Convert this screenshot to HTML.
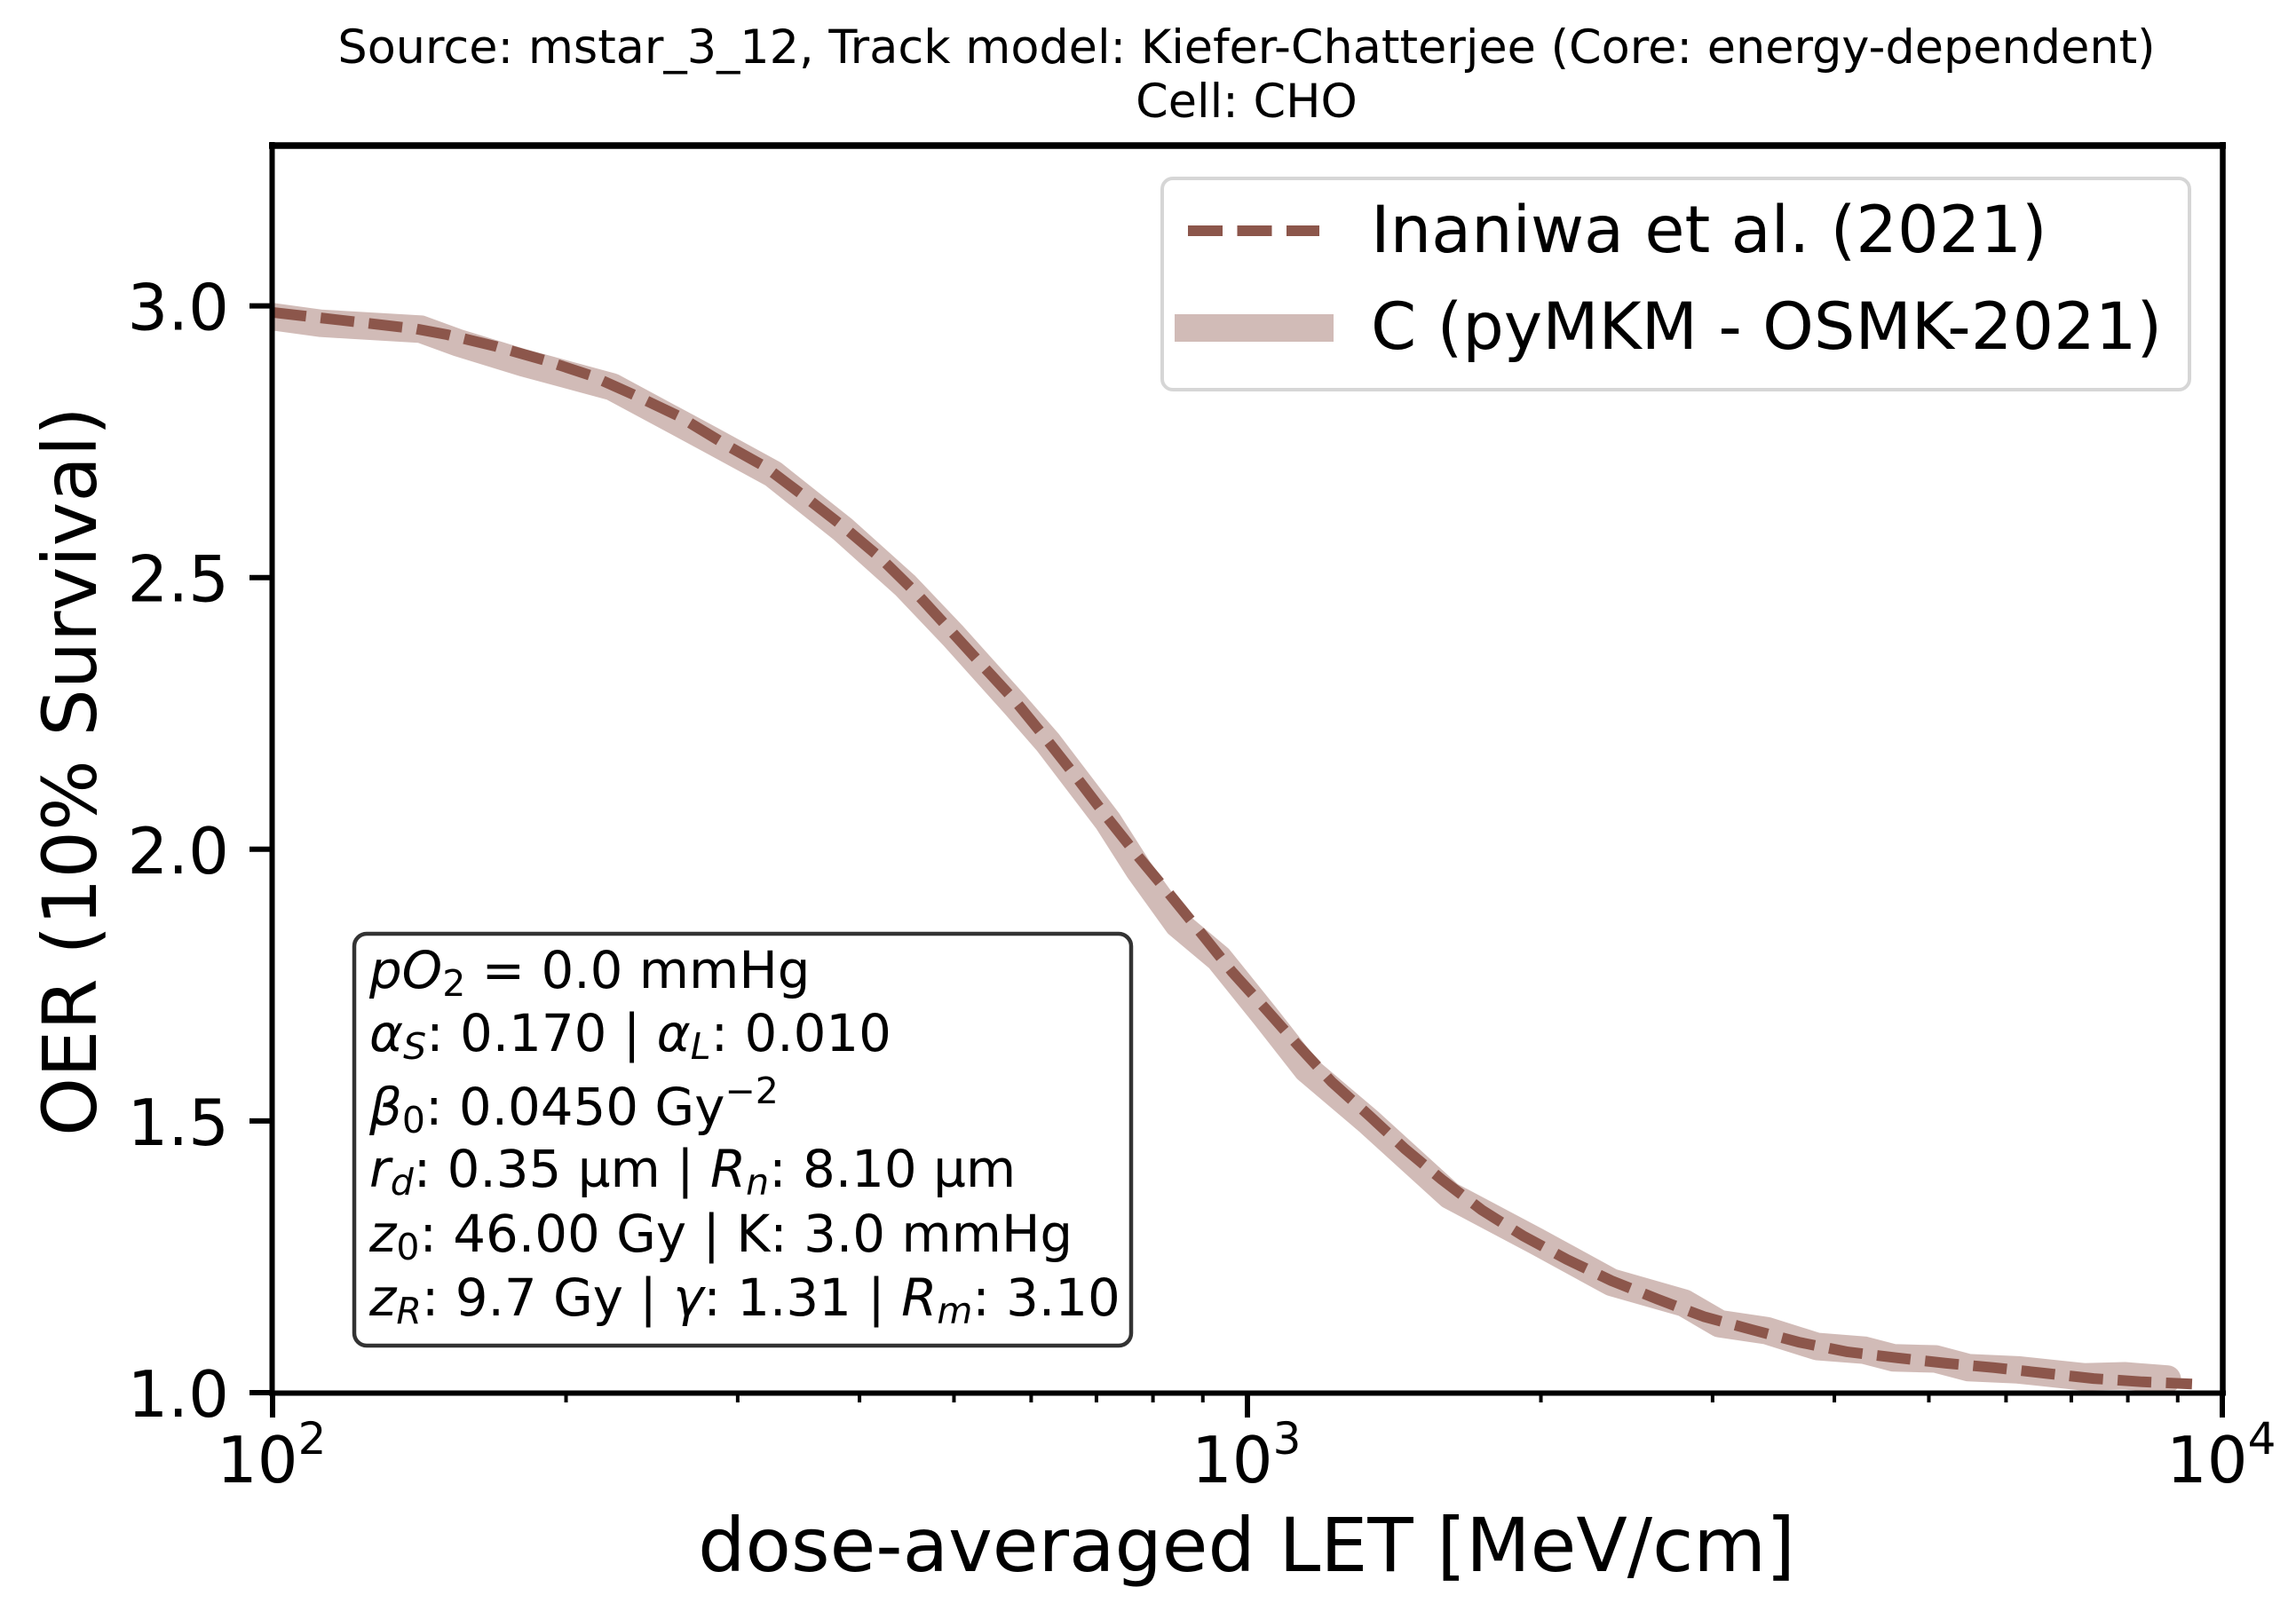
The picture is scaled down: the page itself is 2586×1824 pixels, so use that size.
<!DOCTYPE html>
<html lang="en">
<head>
<meta charset="utf-8">
<title>OER vs dose-averaged LET</title>
<style>
html,body{margin:0;padding:0;background:#fff;}
body{width:2586px;height:1824px;overflow:hidden;}
svg{display:block;font-family:"DejaVu Sans","Liberation Sans",sans-serif;fill:#000;}
</style>
</head>
<body>
<svg id="chart" xmlns="http://www.w3.org/2000/svg" width="2586" height="1824" viewBox="0 0 2586 1824">
  <defs>
    <clipPath id="plot-clip"><rect x="306" y="164" width="2197" height="1405"/></clipPath>
  </defs>
  <rect x="0" y="0" width="2586" height="1824" fill="#fff"/>
  <text x="1404" y="71" font-size="52.45" text-anchor="middle">Source: mstar_3_12, Track model: Kiefer-Chatterjee (Core: energy-dependent)</text>
  <text x="1404" y="132" font-size="52.45" text-anchor="middle">Cell: CHO</text>

  <g id="series-layer" clip-path="url(#plot-clip)"></g>
  <g id="tick-layer"></g>

  <line x1="306.5" y1="160" x2="306.5" y2="1572" stroke="#000" stroke-width="6"/>
  <line x1="2503.5" y1="160" x2="2503.5" y2="1572" stroke="#000" stroke-width="6.5"/>
  <line x1="303" y1="164" x2="2507" y2="164" stroke="#000" stroke-width="7.5"/>
  <line x1="303" y1="1569.5" x2="2507" y2="1569.5" stroke="#000" stroke-width="6"/>

  <text x="1404" y="1770" font-size="84" text-anchor="middle">dose-averaged LET [MeV/cm]</text>
  <text transform="translate(108,869) rotate(-90)" font-size="84" text-anchor="middle">OER (10% Survival)</text>

  <g>
    <rect x="1309" y="201" width="1157" height="238" rx="12" ry="12" fill="#fff" stroke="#d6d6d6" stroke-width="4"/>
    <line x1="1338" y1="260" x2="1486" y2="260" stroke="#8c564b" stroke-width="12" stroke-dasharray="39 16.5"/>
    <text x="1544" y="284" font-size="73.4">Inaniwa et al. (2021)</text>
    <line x1="1323" y1="369.5" x2="1502" y2="369.5" stroke="#8c564b" stroke-opacity="0.4" stroke-width="31"/>
    <text x="1544" y="393" font-size="73.4">C (pyMKM - OSMK-2021)</text>
  </g>

  <g font-size="57.8">
    <rect x="399" y="1052" width="875" height="464" rx="14" ry="14" fill="#fff" stroke="#333" stroke-width="4.5"/>
    <text x="416" y="1113"><tspan font-style="italic">pO</tspan><tspan font-size="41" dy="9">2</tspan><tspan dy="-9"> = 0.0 mmHg</tspan></text>
    <text x="416" y="1184"><tspan font-style="italic">α</tspan><tspan font-size="41" font-style="italic" dy="9">S</tspan><tspan dy="-9">: 0.170 | </tspan><tspan font-style="italic">α</tspan><tspan font-size="41" font-style="italic" dy="9">L</tspan><tspan dy="-9">: 0.010</tspan></text>
    <text x="416" y="1267"><tspan font-style="italic">β</tspan><tspan font-size="41" dy="9">0</tspan><tspan dy="-9">: 0.0450 Gy</tspan><tspan font-size="41" dy="-24">−2</tspan></text>
    <text x="416" y="1337"><tspan font-style="italic">r</tspan><tspan font-size="41" font-style="italic" dy="9">d</tspan><tspan dy="-9">: 0.35 µm | </tspan><tspan font-style="italic">R</tspan><tspan font-size="41" font-style="italic" dy="9">n</tspan><tspan dy="-9">: 8.10 µm</tspan></text>
    <text x="416" y="1410"><tspan font-style="italic">z</tspan><tspan font-size="41" dy="9">0</tspan><tspan dy="-9">: 46.00 Gy | K: 3.0 mmHg</tspan></text>
    <text x="416" y="1482"><tspan font-style="italic">z</tspan><tspan font-size="41" font-style="italic" dy="9">R</tspan><tspan dy="-9">: 9.7 Gy | </tspan><tspan font-style="italic">γ</tspan><tspan>: 1.31 | </tspan><tspan font-style="italic">R</tspan><tspan font-size="41" font-style="italic" dy="9">m</tspan><tspan dy="-9">: 3.10</tspan></text>
  </g>
</svg>
<script>
const inaniwaLet = [100,140,151,169,190,212,235,261,294,320,351,385,421,457,494,535,579,623,670,719,774,833,897,965,1043,1127,1220,1333,1450,1583,1740,1916,2127,2363,2635,2938,3291,3677,4128,4642,5210,5833,6560,7380,8280,9310];
const inaniwaOer = [2.988,2.958,2.947,2.926,2.900,2.872,2.836,2.797,2.741,2.704,2.650,2.594,2.535,2.472,2.406,2.338,2.271,2.201,2.129,2.057,1.985,1.916,1.845,1.774,1.707,1.639,1.572,1.510,1.449,1.392,1.336,1.289,1.245,1.206,1.172,1.140,1.116,1.093,1.075,1.064,1.054,1.046,1.036,1.026,1.020,1.016];
const pymkmLet = [100,112,142,155,181,223,281,326,385,446,499,579,624,719,774,849,935,1043,1151,1333,1613,1977,2363,2805,3050,3410,3840,4295,4600,5080,5490,6170,7210,7940,8780];
const pymkmOer = [2.980,2.968,2.957,2.932,2.895,2.851,2.754,2.691,2.588,2.485,2.393,2.264,2.197,2.052,1.962,1.862,1.799,1.693,1.595,1.498,1.363,1.279,1.203,1.165,1.127,1.114,1.085,1.078,1.064,1.062,1.046,1.042,1.029,1.031,1.025];
const yTickValues = [1.0,1.5,2.0,2.5,3.0];
const yTickLabels = ["1.0","1.5","2.0","2.5","3.0"];
const xTickValues = [100,1000,10000];
const xTickBases = ["10","10","10"];
const xTickExponents = ["2","3","4"];
const xMinorValues = [200,300,400,500,600,700,800,900,2000,3000,4000,5000,6000,7000,8000,9000];

const SVGNS = "http://www.w3.org/2000/svg";
function xScale(v){ return 307 + 1098 * (Math.log10(v) - 2); }
function yScale(v){ return 1569 - 612.2 * (v - 1); }
function make(tag, attrs, parent){
  const el = document.createElementNS(SVGNS, tag);
  for (const k in attrs) el.setAttribute(k, attrs[k]);
  parent.appendChild(el);
  return el;
}
function linePath(xs, ys){
  return xs.map(function(v, i){ return (i ? "L" : "M") + xScale(v).toFixed(1) + " " + yScale(ys[i]).toFixed(1); }).join(" ");
}
const seriesLayer = document.getElementById("series-layer");
const tickLayer = document.getElementById("tick-layer");

const band = make("path", {d: linePath(pymkmLet, pymkmOer), fill: "none", stroke: "#8c564b", "stroke-opacity": "0.4", "stroke-width": "31", "stroke-linecap": "round", "stroke-linejoin": "round"}, seriesLayer);



const dashed = make("path", {d: linePath(inaniwaLet, inaniwaOer), fill: "none", stroke: "#8c564b", "stroke-width": "12", "stroke-dasharray": "38 16.5", "stroke-linejoin": "round"}, seriesLayer);



yTickValues.forEach(function(v, i){
  const y = yScale(v);
  const tick = make("line", {x1: 281, x2: 306, y1: y, y2: y, stroke: "#000", "stroke-width": 6}, tickLayer);
  
  
  const label = make("text", {x: 258, y: y + 27, "font-size": 72, "text-anchor": "end"}, tickLayer);
  label.textContent = yTickLabels[i];
  
  
});

xTickValues.forEach(function(v, i){
  const x = xScale(v);
  const tick = make("line", {x1: x, x2: x, y1: 1569, y2: 1597, stroke: "#000", "stroke-width": 6}, tickLayer);
  
  
  const label = make("text", {x: x - 63, y: 1670, "font-size": 72}, tickLayer);
  
  
  const base = make("tspan", {}, label);
  base.textContent = xTickBases[i];
  const exp = make("tspan", {"font-size": 50, dy: -32}, label);
  exp.textContent = xTickExponents[i];
});

xMinorValues.forEach(function(v){
  const x = xScale(v);
  const tick = make("line", {x1: x, x2: x, y1: 1569, y2: 1580, stroke: "#000", "stroke-width": 4}, tickLayer);
  
  
});
</script>
</body>
</html>
